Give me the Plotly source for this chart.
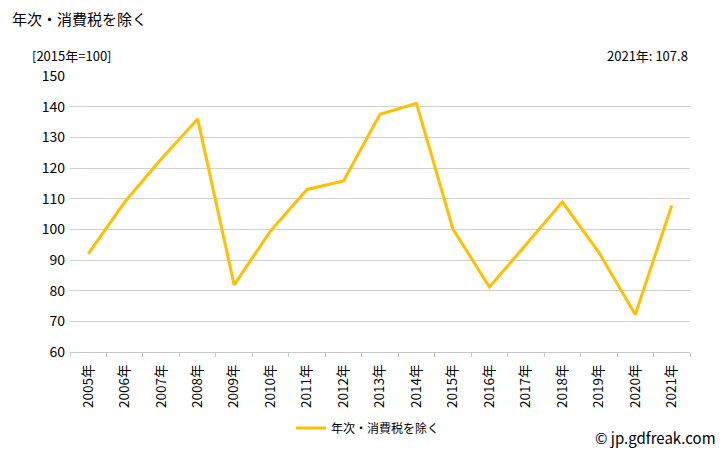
import plotly.graph_objects as go

years = ["2005年", "2006年", "2007年", "2008年", "2009年", "2010年", "2011年", "2012年",
         "2013年", "2014年", "2015年", "2016年", "2017年", "2018年", "2019年", "2020年", "2021年"]
values = [92.0, 108.9, 122.9, 136.0, 81.9, 99.5, 113.0, 115.8,
          137.5, 141.1, 100.1, 81.2, 95.0, 108.9, 92.5, 72.2, 107.8]
series_name = "年次・消費税を除く"
y_ticks = [60, 70, 80, 90, 100, 110, 120, 130, 140, 150]

FONT = "Noto Sans CJK JP"

fig = go.Figure()
fig.add_trace(go.Scatter(
    x=years, y=values, mode="lines", name=series_name,
    line=dict(color="#FFC000", width=3),
))

fig.update_layout(
    width=720, height=442,
    margin=dict(l=62, r=38, t=68, b=98, autoexpand=False),
    paper_bgcolor="white", plot_bgcolor="white",
    font=dict(family=FONT, size=13, color="#000"),
    showlegend=True,
    legend=dict(orientation="h", x=0.5, xanchor="center", xref="container",
                y=22 / 442, yanchor="middle", yref="container",
                font=dict(size=12), itemwidth=30),
    xaxis=dict(
        type="category", range=[-0.5, len(years) - 0.5], automargin=False,
        tickangle=-90, tickson="boundaries", ticks="outside",
        ticklen=4, tickcolor="#c8c8c8", showline=True, linecolor="#c8c8c8",
        showgrid=False, tickfont=dict(size=13.5), ticklabelstandoff=6,
    ),
    yaxis=dict(
        range=[60, 150], tickvals=y_ticks, showgrid=True, gridcolor="#d0d0d0",
        gridwidth=1, zeroline=False, showline=False, ticks="", automargin=False,
        tickfont=dict(size=14), ticklabelstandoff=4,
    ),
    annotations=[
        dict(text="年次・消費税を除く", xref="paper", yref="paper", x=-0.097, y=1.0,
             xanchor="left", yanchor="bottom", yshift=45, showarrow=False,
             font=dict(size=15)),
        dict(text="[2015年=100]", xref="paper", yref="paper", x=-0.065, y=1.0,
             xanchor="left", yanchor="bottom", yshift=9, showarrow=False,
             font=dict(size=13)),
        dict(text="2021年: 107.8", xref="paper", yref="paper", x=1.0, y=1.0,
             xanchor="right", yanchor="bottom", yshift=9, showarrow=False,
             font=dict(size=13)),
        dict(text="© jp.gdfreak.com", xref="paper", yref="paper", x=1.045, y=0,
             xanchor="right", yanchor="middle", yshift=-85, showarrow=False,
             font=dict(size=15)),
    ],
)

fig.write_html("out.html")
